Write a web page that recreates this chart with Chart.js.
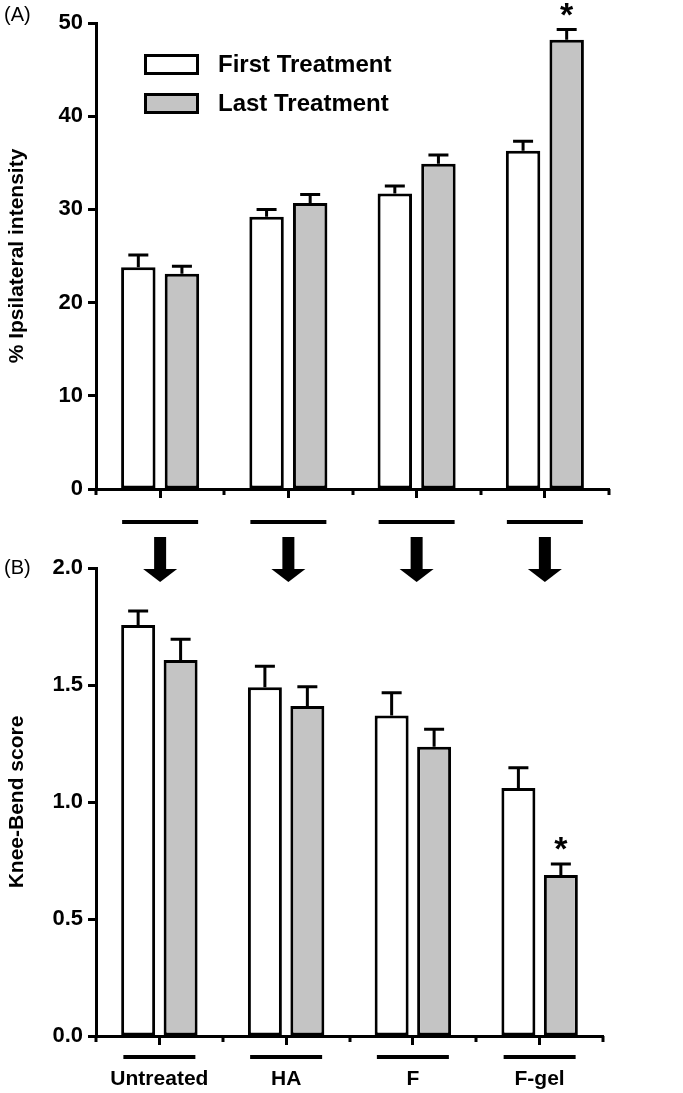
<!DOCTYPE html>
<html>
<head>
<meta charset="utf-8">
<script src="https://cdn.jsdelivr.net/npm/chart.js@4.4.1/dist/chart.umd.min.js"></script>
<style>
html, body { margin: 0; padding: 0; background: #fff; }
#wrap { position: relative; width: 683px; height: 1093px; }
canvas { position: absolute; left: 0; top: 0; }
</style>
</head>
<body>
<div id="wrap">
<canvas id="topChart" width="683" height="1093"></canvas>
<canvas id="bottomChart" width="683" height="1093"></canvas>
</div>
<script>
// ---- data ----
const categories = ["Untreated", "HA", "F", "F-gel"];
const seriesNames = ["First Treatment", "Last Treatment"];

// (A) % ipsilateral intensity
const intensityFirst = [23.8, 29.2, 31.7, 36.3];
const intensityFirstErr = [1.3, 0.8, 0.8, 1.0];
const intensityLast = [23.1, 30.7, 34.9, 48.2];
const intensityLastErr = [0.8, 0.9, 0.95, 1.1];
const intensitySig = [false, false, false, true];   // on Last Treatment
const intensityTicks = [0, 10, 20, 30, 40, 50];

// (B) knee-bend score
const kneeFirst = [1.756, 1.49, 1.37, 1.06];
const kneeFirstErr = [0.06, 0.09, 0.097, 0.086];
const kneeLast = [1.607, 1.41, 1.236, 0.688];
const kneeLastErr = [0.088, 0.083, 0.075, 0.047];
const kneeSig = [false, false, false, true];        // on Last Treatment
const kneeTicks = [0, 0.5, 1.0, 1.5, 2.0];

const FONT = '"Liberation Sans", Arial, Helvetica, sans-serif';
const GREY = "#c4c4c4";

function makeDatasets(first, last) {
    return [
        { label: seriesNames[0], data: first, backgroundColor: "#ffffff", borderColor: "#000", borderWidth: 3, borderSkipped: false },
        { label: seriesNames[1], data: last, backgroundColor: GREY, borderColor: "#000", borderWidth: 3, borderSkipped: false }
    ];
}

// error bars (upper only) + significance star
function errorBars(errs, sig) {
    return {
        id: "errorBars",
        afterDatasetsDraw(chart) {
            const ctx = chart.ctx;
            const y = chart.scales.y;
            ctx.save();
            ctx.strokeStyle = "#000";
            ctx.lineWidth = 3;
            chart.data.datasets.forEach((ds, di) => {
                chart.getDatasetMeta(di).data.forEach((bar, i) => {
                    const top = y.getPixelForValue(ds.data[i] + errs[di][i]);
                    ctx.beginPath();
                    ctx.moveTo(bar.x, bar.y);
                    ctx.lineTo(bar.x, top);
                    ctx.moveTo(bar.x - 10, top);
                    ctx.lineTo(bar.x + 10, top);
                    ctx.stroke();
                    if (di === 1 && sig[i]) {
                        ctx.fillStyle = "#000";
                        ctx.font = "bold 34px " + FONT;
                        ctx.textAlign = "center";
                        ctx.textBaseline = "alphabetic";
                        ctx.fillText("*", bar.x, top - 4);
                    }
                });
            });
            ctx.restore();
        }
    };
}

// short ticks at category boundaries
const boundaryTicks = {
    id: "boundaryTicks",
    afterDraw(chart) {
        const { ctx, chartArea } = chart;
        const n = categories.length;
        const w = (chartArea.right - chartArea.left) / n;
        ctx.save();
        ctx.strokeStyle = "#000";
        ctx.lineWidth = 3;
        for (let i = 0; i <= n; i++) {
            const x = Math.round(chartArea.left + i * w);
            ctx.beginPath();
            ctx.moveTo(x, chartArea.bottom);
            ctx.lineTo(x, chartArea.bottom + 6);
            ctx.stroke();
        }
        ctx.restore();
    }
};

function panelLabel(text, dy) {
    return {
        id: "panelLabel",
        afterDraw(chart) {
            const ctx = chart.ctx;
            ctx.save();
            ctx.fillStyle = "#000";
            ctx.font = "20px " + FONT;
            ctx.textAlign = "left";
            ctx.textBaseline = "middle";
            ctx.fillText(text, 4, chart.chartArea.top + dy);
            ctx.restore();
        }
    };
}

// underline bars under each category
function underlines(offset, halfWidth) {
    return {
        id: "underlines",
        afterDraw(chart) {
            const { ctx, chartArea } = chart;
            const x = chart.scales.x;
            ctx.save();
            ctx.fillStyle = "#000";
            categories.forEach((c, i) => {
                const cx = x.getPixelForValue(i);
                ctx.fillRect(cx - halfWidth, chartArea.bottom + offset, halfWidth * 2, 4);
            });
            ctx.restore();
        }
    };
}

// arrows from panel A to panel B
const arrows = {
    id: "arrows",
    afterDraw(chart) {
        const { ctx, chartArea } = chart;
        const x = chart.scales.x;
        const b = chartArea.bottom;
        ctx.save();
        ctx.fillStyle = "#000";
        categories.forEach((c, i) => {
            const cx = x.getPixelForValue(i);
            ctx.fillRect(cx - 6, b + 48, 12, 34);
            ctx.beginPath();
            ctx.moveTo(cx - 17, b + 80);
            ctx.lineTo(cx + 17, b + 80);
            ctx.lineTo(cx, b + 93);
            ctx.closePath();
            ctx.fill();
        });
        ctx.restore();
    }
};

// legend drawn inside panel A
const boxLegend = {
    id: "boxLegend",
    afterDraw(chart) {
        const { ctx, chartArea } = chart;
        ctx.save();
        chart.data.datasets.forEach((ds, i) => {
            const bx = chartArea.left + 48;
            const by = chartArea.top + 31 + i * 39;
            ctx.fillStyle = ds.backgroundColor;
            ctx.fillRect(bx, by, 55, 21);
            ctx.strokeStyle = "#000";
            ctx.lineWidth = 3;
            ctx.strokeRect(bx + 1.5, by + 1.5, 52, 18);
            ctx.fillStyle = "#000";
            ctx.font = "bold 24px " + FONT;
            ctx.textAlign = "left";
            ctx.textBaseline = "middle";
            ctx.fillText(ds.label, bx + 74, by + 11);
        });
        ctx.restore();
    }
};

function yScale(ticks, title, fmt) {
    return {
        min: ticks[0],
        max: ticks[ticks.length - 1],
        afterBuildTicks(s) { s.ticks = ticks.map(v => ({ value: v })); },
        afterFit(s) { s.width = 96; },
        border: { display: true, width: 3, color: "#000" },
        grid: { drawOnChartArea: false, drawTicks: true, tickLength: 8, tickWidth: 3, tickColor: "#000" },
        ticks: { color: "#000", padding: 5, font: { family: FONT, size: 22, weight: "bold" }, callback: fmt },
        title: { display: true, text: title, color: "#000", padding: { top: 5, bottom: 0 }, font: { family: FONT, size: 21, weight: "bold" } }
    };
}

function xScale(height, showLabels) {
    return {
        type: "category",
        offset: true,
        afterFit(s) { s.height = height; },
        border: { display: true, width: 3, color: "#000" },
        grid: { offset: false, drawOnChartArea: false, drawTicks: true, tickLength: 9, tickWidth: 3, tickColor: "#000" },
        ticks: { display: showLabels, color: "#000", padding: 22, font: { family: FONT, size: 21, weight: "bold" } }
    };
}

const common = {
    responsive: false,
    animation: false,
    devicePixelRatio: 1,
    plugins: { legend: { display: false }, tooltip: { enabled: false } }
};

new Chart(document.getElementById("topChart"), {
    type: "bar",
    data: { labels: categories, datasets: makeDatasets(intensityFirst, intensityLast) },
    options: {
        ...common,
        datasets: { bar: { categoryPercentage: 0.68, barPercentage: 0.79 } },
        layout: { padding: { top: 23, left: 0, right: 74, bottom: 594 } },
        scales: {
            x: xScale(10, false),
            y: yScale(intensityTicks, "% Ipsilateral intensity", v => v)
        }
    },
    plugins: [errorBars([intensityFirstErr, intensityLastErr], intensitySig), boundaryTicks,
              panelLabel("(A)", -8), underlines(31, 38), arrows, boxLegend]
});

new Chart(document.getElementById("bottomChart"), {
    type: "bar",
    data: { labels: categories, datasets: makeDatasets(kneeFirst, kneeLast) },
    options: {
        ...common,
        datasets: { bar: { categoryPercentage: 0.67, barPercentage: 0.8 } },
        layout: { padding: { top: 568, left: 0, right: 80, bottom: 0 } },
        scales: {
            x: xScale(57, true),
            y: yScale(kneeTicks, "Knee-Bend score", v => Number(v).toFixed(1))
        }
    },
    plugins: [errorBars([kneeFirstErr, kneeLastErr], kneeSig), boundaryTicks,
              panelLabel("(B)", 0), underlines(19, 36)]
});
</script>
</body>
</html>
